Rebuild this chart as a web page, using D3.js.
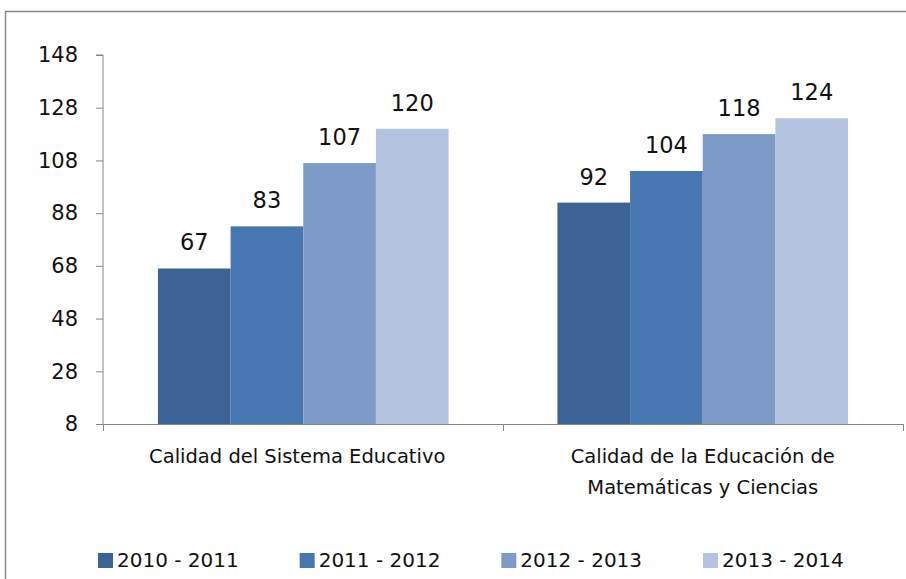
<!DOCTYPE html>
<html><head><meta charset="utf-8">
<script src="https://cdn.jsdelivr.net/npm/d3@7"></script>
<style>html,body{margin:0;padding:0;background:#fff;}svg{display:block;}</style>
</head><body>
<svg id="chart" width="906" height="579"></svg>
<script>
const categories = [["Calidad del Sistema Educativo"], ["Calidad de la Educación de", "Matemáticas y Ciencias"]];
const categoryKeys = ["Calidad del Sistema Educativo", "Calidad de la Educación de Matemáticas y Ciencias"];
const seriesNames = ["2010 - 2011", "2011 - 2012", "2012 - 2013", "2013 - 2014"];
const seriesColors = ["#3b6396", "#4777b0", "#7e9bc8", "#b4c3df"];
const values2010 = [67, 92];
const values2011 = [83, 104];
const values2012 = [107, 118];
const values2013 = [120, 124];
const tickValues = [8, 28, 48, 68, 88, 108, 128, 148];

const seriesValues = [values2010, values2011, values2012, values2013];
const font = "'DejaVu Sans', sans-serif";
const svg = d3.select("#chart");

// outer border
svg.append("rect").attr("x", 5.5).attr("y", 11.5).attr("width", 950).attr("height", 650)
  .attr("fill", "none").attr("stroke", "#8a8a8a").attr("stroke-width", 1.5);

const pLeft = 103, pRight = 903, pTop = 55, pBottom = 424;
const y = d3.scaleLinear().domain([8, 148]).range([pBottom, pTop]);
const x0 = d3.scaleBand().domain(categoryKeys).range([pLeft, pRight]).paddingInner(0.2725).paddingOuter(0.1375);
const x1 = d3.scaleBand().domain(seriesNames).range([0, x0.bandwidth()]);

// y axis
const yAxis = svg.append("g").attr("transform", `translate(${pLeft},0)`)
  .call(d3.axisLeft(y).tickValues(tickValues).tickSize(7).tickPadding(18).tickFormat(d3.format("d")));
yAxis.select(".domain").attr("stroke", "#868686").attr("d", `M-7,${pTop}H0V${pBottom}`);
yAxis.selectAll(".tick line").attr("stroke", "#868686");
yAxis.selectAll(".tick text").attr("font-family", font).attr("font-size", 21).attr("fill", "#111");

// x axis line & ticks
const xg = svg.append("g");
xg.append("line").attr("x1", pLeft).attr("x2", pRight).attr("y1", pBottom + 0.5).attr("y2", pBottom + 0.5)
  .attr("stroke", "#868686");
const boundaries = [pLeft].concat(categoryKeys.map(c => x0(c) + x0.bandwidth() + (x0.step() - x0.bandwidth()) / 2));
xg.selectAll("line.tk").data(boundaries).enter().append("line")
  .attr("x1", d => Math.round(d) + 0.5).attr("x2", d => Math.round(d) + 0.5)
  .attr("y1", pBottom).attr("y2", pBottom + 7).attr("stroke", "#868686");

// bars
const groups = svg.append("g").selectAll("g").data(categoryKeys).enter().append("g")
  .attr("transform", c => `translate(${x0(c)},0)`);
groups.each(function(c, ci) {
  const g = d3.select(this);
  seriesNames.forEach((s, si) => {
    const v = seriesValues[si][ci];
    g.append("rect").attr("x", x1(s)).attr("width", x1.bandwidth())
      .attr("y", y(v)).attr("height", y(8) - y(v)).attr("fill", seriesColors[si]);
    g.append("text").attr("x", x1(s) + x1.bandwidth() / 2).attr("y", y(v) - 18)
      .attr("text-anchor", "middle").attr("font-family", font).attr("font-size", 22.5)
      .attr("fill", "#111").text(v);
  });
});

// category labels
categories.forEach((lines, ci) => {
  const cx = x0(categoryKeys[ci]) + x0.bandwidth() / 2;
  lines.forEach((ln, li) => {
    svg.append("text").attr("x", cx - (ci === 0 ? 6 : 0)).attr("y", 463 + li * 31).attr("text-anchor", "middle")
      .attr("font-family", font).attr("font-size", 19.5).attr("fill", "#111").text(ln);
  });
});

// legend
const legendX = d3.scalePoint().domain(seriesNames).range([98, 703]);
const lg = svg.append("g");
seriesNames.forEach((s, i) => {
  lg.append("rect").attr("x", legendX(s)).attr("y", 553).attr("width", 15).attr("height", 15)
    .attr("fill", seriesColors[i]);
  lg.append("text").attr("x", legendX(s) + 19).attr("y", 567).attr("font-family", font)
    .attr("font-size", 20).attr("fill", "#111").text(s);
});
</script>
</body></html>
